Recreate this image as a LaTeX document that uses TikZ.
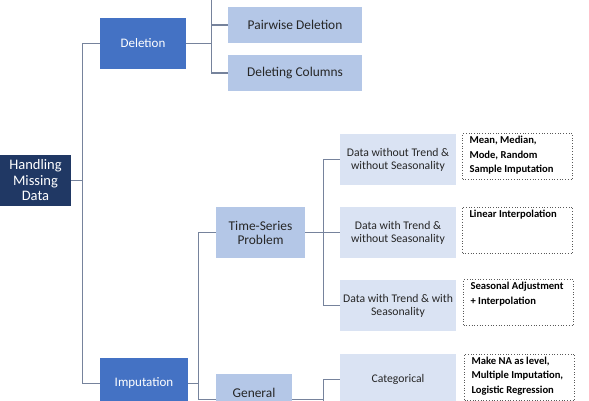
\documentclass[tikz,border=0pt]{standalone}
\usepackage{fontspec}
\setmainfont{Carlito}

\definecolor{rootnavy}{HTML}{203864}
\definecolor{methodblue}{HTML}{4472C4}
\definecolor{paleblue}{HTML}{B4C7E7}
\definecolor{iceblue}{HTML}{DAE3F3}
\definecolor{linkgrey}{HTML}{76839C}
\definecolor{darktext}{HTML}{262626}

% top-aligned text inside the dotted result boxes
\newcommand{\restext}[1]{\parbox[t][40pt][t]{96pt}{\raggedright #1}}

\begin{document}
\begin{tikzpicture}[x=1pt,y=-1pt]
        % Styles
        \tikzstyle{rootbox}   = [rectangle, fill=rootnavy, text=white, inner sep=0pt,
                                 minimum width=71pt, minimum height=51pt, align=center,
                                 font=\fontsize{14.5}{15.5}\selectfont]
        \tikzstyle{methodbox} = [rectangle, fill=methodblue, text=white, inner sep=0pt,
                                 minimum height=51pt, font=\fontsize{13}{14}\selectfont]
        \tikzstyle{subbox}    = [rectangle, fill=paleblue, text=darktext, inner sep=0pt,
                                 align=center, font=\fontsize{13.4}{14}\selectfont]
        \tikzstyle{casebox}   = [rectangle, fill=iceblue, text=darktext, inner sep=0pt,
                                 minimum width=116pt, minimum height=51pt, align=center,
                                 font=\fontsize{11.7}{12.8}\selectfont]
        \tikzstyle{resultbox} = [rectangle, draw=black!65, dotted, line width=0.7pt, text=black,
                                 inner xsep=7pt, inner ysep=3pt,
                                 font=\bfseries\fontsize{10.6}{14.5}\selectfont]
        \tikzstyle{link}      = [draw=linkgrey, line width=1.3pt]

        \useasboundingbox (0,0) rectangle (589,400);
        \clip (0,0) rectangle (589,400);

        % ==== Nodes ====
        \node[rootbox]   (root)        at (35.5,180.5) {Handling\\Missing\\Data};

        \node[methodbox, minimum width=86pt] (deletion)   at (143,43.5)  {Deletion};
        \node[methodbox, minimum width=88pt] (imputation) at (144,383.5) {Imputation};

        \node[subbox, minimum width=134pt, minimum height=36pt] (pairwise) at (295,25) {Pairwise Deletion};
        \node[subbox, minimum width=134pt, minimum height=36pt] (delcols)  at (295,73) {Deleting Columns};

        \node[subbox, minimum width=89pt, minimum height=51pt] (timeseries) at (260.5,232.5) {Time-Series\\Problem};
        \node[subbox, minimum width=76pt, minimum height=51pt] (general)    at (254,399.5)   {General\\\phantom{x}};

        \node[casebox] (notrend)     at (398,159.5) {Data without Trend \&\\without Seasonality};
        \node[casebox] (trendnoseas) at (398,232.5) {Data with Trend \&\\without Seasonality};
        \node[casebox] (trendseas)   at (398,305.5) {Data with Trend \& with\\Seasonality};
        \node[casebox] (categorical) at (398,379.5) {Categorical};

        \node[resultbox] (meanres)   at (517.5,156.5) {\restext{Mean, Median,\\Mode, Random\\Sample Imputation}};
        \node[resultbox] (linres)    at (517.5,230)   {\restext{Linear Interpolation}};
        \node[resultbox] (seasres)   at (518.5,302.5) {\restext{Seasonal Adjustment\\+ Interpolation}};
        \node[resultbox] (catres)    at (519.5,377)   {\restext{Make NA as level,\\Multiple Imputation,\\Logistic Regression}};

        % off-picture neighbours (cut by the frame)
        \coordinate (listwise)  at (228,-20);
        \coordinate (numerical) at (340,450);

        % ==== Connectors ====
        \draw[link] (root.east) -- ++(11,0) coordinate (trunk);
        \draw[link] (trunk) |- (deletion.west);
        \draw[link] (trunk) |- (imputation.west);

        % Deletion fork
        \draw[link] (deletion.east) -- ++(25,0) coordinate (delfork);
        \draw[link] (delfork) |- (listwise);
        \draw[link] (delfork) |- (pairwise.west);
        \draw[link] (delfork) |- (delcols.west);

        % Imputation fork
        \draw[link] (imputation.east) -- ++(10,0) coordinate (impfork);
        \draw[link] (impfork) |- (timeseries.west);
        \draw[link] (impfork) |- (general.west);

        % Time-series cases
        \draw[link] (timeseries.east) -- ++(18,0) coordinate (tsfork);
        \draw[link] (tsfork) |- (notrend.west);
        \draw[link] (tsfork) -- (trendnoseas.west);
        \draw[link] (tsfork) |- (trendseas.west);

        % General cases
        \draw[link] (general.east) -- ++(31,0) coordinate (genfork);
        \draw[link] (genfork) |- (categorical.west);
        \draw[link] (genfork) |- (numerical);
    \end{tikzpicture}
\end{document}
